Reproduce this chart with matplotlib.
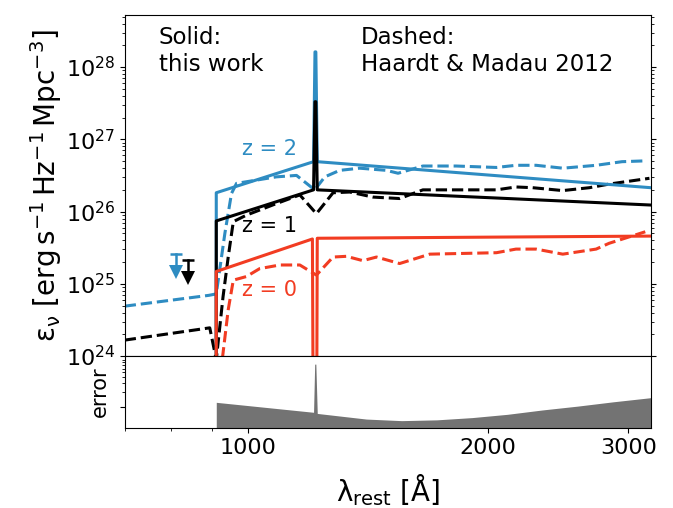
import numpy as np
import matplotlib
matplotlib.use("Agg")
import matplotlib.pyplot as plt
from matplotlib.ticker import FixedLocator, NullFormatter, FixedFormatter

blue = '#2e8cc2'
red = '#f23c22'

# Solid: this work (log10 emissivity)
lam_blue = [911.9, 912, 1208, 1213, 1216, 1221, 3200]
logj_blue = [22.0, 26.26, 26.69, 28.21, 28.21, 26.69, 26.33]
lam_black = [911.9, 912, 1208, 1213, 1216, 1221, 3200]
logj_black = [22.0, 25.87, 26.30, 27.52, 27.52, 26.30, 26.09]
lam_red = [911.9, 912, 1204, 1208, 1218, 1221, 3200]
logj_red = [22.0, 25.17, 25.62, 22.0, 22.0, 25.63, 25.66]

# Dashed: Haardt & Madau 2012
lam_hm_blue = [700, 893, 912, 935, 953, 967, 1085, 1150, 1212, 1248, 1303, 1380, 1491, 1542,
               1657, 1824, 2049, 2168, 2298, 2482, 2733, 2945, 3124]
logj_hm_blue = [24.69, 24.84, 24.86, 25.70, 26.25, 26.39, 26.48, 26.50, 26.30, 26.48, 26.57, 26.60,
                26.57, 26.53, 26.63, 26.63, 26.61, 26.64, 26.64, 26.60, 26.64, 26.69, 26.70]
lam_hm_black = [700, 895, 912, 930, 944, 958, 995, 1085, 1161, 1218, 1278, 1341, 1434, 1549,
                1657, 2049, 2168, 2275, 2482, 2681, 2837, 3188]
logj_hm_black = [24.22, 24.39, 23.95, 24.82, 25.37, 25.86, 25.95, 26.11, 26.23, 25.97, 26.26, 26.27,
                 26.20, 26.18, 26.30, 26.30, 26.34, 26.33, 26.29, 26.33, 26.38, 26.46]
lam_hm_red = [912, 930, 944, 958, 995, 1034, 1096, 1161, 1218, 1278, 1328, 1393, 1449, 1549,
              1690, 2049, 2168, 2298, 2482, 2733, 2837, 3150]
logj_hm_red = [23.3, 24.04, 24.64, 25.05, 25.10, 25.21, 25.26, 25.26, 25.12, 25.37, 25.38, 25.32,
               25.37, 25.28, 25.41, 25.43, 25.48, 25.48, 25.41, 25.48, 25.56, 25.72]

# upper limits
ul_lam = [811, 840]
ul_top = [10**25.41, 10**25.33]
ul_head = [10**25.16, 10**25.08]
ul_colors = [blue, 'k']

# labels for the redshifts
z_labels = ['z = 2', 'z = 1', 'z = 0']
z_label_pos = [10**26.86, 10**25.80, 10**24.92]
z_colors = [blue, 'k', red]

# error panel
lam_err = [912, 1208, 1212, 1216, 1221, 1407, 1558, 1725, 1910, 2115, 2341, 2592, 2871, 3200]
err = [0.123, 0.077, 0.74, 0.74, 0.073, 0.056, 0.052, 0.054, 0.060, 0.070, 0.086, 0.103, 0.126, 0.153]

fig = plt.figure(figsize=(6.73, 5.08), dpi=100)
ax1 = fig.add_axes([0.1853, 0.2992, 0.7816, 0.6719])
ax2 = fig.add_axes([0.1853, 0.1569, 0.7816, 0.1423], sharex=ax1)

lw = 2.2
ax1.plot(lam_hm_blue, 10**np.array(logj_hm_blue), '--', color=blue, lw=lw)
ax1.plot(lam_hm_black, 10**np.array(logj_hm_black), '--', color='k', lw=lw)
ax1.plot(lam_hm_red, 10**np.array(logj_hm_red), '--', color=red, lw=lw)
ax1.plot(lam_blue, 10**np.array(logj_blue), '-', color=blue, lw=lw)
ax1.plot(lam_black, 10**np.array(logj_black), '-', color='k', lw=lw)
ax1.plot(lam_red, 10**np.array(logj_red), '-', color=red, lw=lw)

for x, top, head, c in zip(ul_lam, ul_top, ul_head, ul_colors):
    ax1.plot([x, x], [top, head], color=c, lw=1.8)
    ax1.plot(x, top, marker='_', ms=9, mew=1.8, color=c)
    ax1.plot(x, head, marker='v', ms=10, color=c, mew=0)

ax1.set_xscale('log')
ax1.set_yscale('log')
ax1.set_xlim(700, 3200)
ax1.set_ylim(1e24, 10**28.725)
ax1.tick_params(axis='x', which='both', bottom=False, labelbottom=False)
ax1.tick_params(axis='y', which='both', right=True, labelsize=16)
ax1.set_ylabel(r'$\mathrm{\epsilon_\nu}\ [\mathrm{erg\,s^{-1}\,Hz^{-1}\,Mpc^{-3}}]$',
               fontsize=20, labelpad=1)

ax1.text(0.065, 0.894, 'Solid:\nthis work', fontsize=16.5, va='center', ha='left',
         transform=ax1.transAxes, linespacing=1.2)
ax1.text(0.449, 0.894, 'Dashed:\nHaardt & Madau 2012', fontsize=16.5, va='center', ha='left',
         transform=ax1.transAxes, linespacing=1.2)
for lab, yv, c in zip(z_labels, z_label_pos, z_colors):
    ax1.text(981, yv, lab, color=c, fontsize=15, va='center')

ax2.fill_between(lam_err, 1e-3, err, color='#737373', lw=0)
ax2.set_yscale('log')
ax2.set_ylim(10**-1.44, 10**0.035)
ax2.yaxis.set_major_locator(FixedLocator([0.1]))
ax2.yaxis.set_minor_locator(FixedLocator([0.2, 0.3, 0.4, 0.5, 0.6, 0.7, 0.8, 0.9]))
ax2.yaxis.set_major_formatter(NullFormatter())
ax2.yaxis.set_minor_formatter(NullFormatter())
ax2.set_xticks([1000, 2000, 3000])
ax2.xaxis.set_major_formatter(FixedFormatter(['1000', '2000', '3000']))
ax2.xaxis.set_minor_formatter(NullFormatter())
ax2.tick_params(axis='x', labelsize=16)
ax2.set_xlim(700, 3200)
ax2.set_ylabel('error', fontsize=15)
ax2.set_xlabel('λ$_{\\mathrm{rest}}$ [Å]', fontsize=20, labelpad=10)

fig.savefig('out.png', dpi=100)
